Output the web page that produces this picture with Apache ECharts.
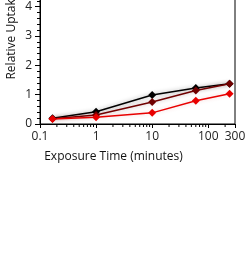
<!DOCTYPE html>
<html>
<head>
<meta charset="utf-8">
<script src="https://cdn.jsdelivr.net/npm/echarts@6/dist/echarts.min.js"></script>
<style>
html, body { margin: 0; padding: 0; background: #fff; }
#chart { width: 245px; height: 255px; }
</style>
</head>
<body>
<div id="chart"></div>
<script>
// exposure times (minutes)
var times = [0.167, 1, 10, 60, 240];
// relative uptake per state
var uptakeBlack = [0.20, 0.42, 0.99, 1.23, 1.37];
var uptakeDarkRed = [0.18, 0.31, 0.75, 1.14, 1.37];
var uptakeRed = [0.17, 0.23, 0.38, 0.79, 1.03];
// log axis minor ticks
var minorTimes = [0.2, 0.3, 0.4, 0.5, 0.6, 0.7, 0.8, 0.9, 2, 3, 4, 5, 6, 7, 8, 9, 20, 30, 40, 50, 60, 70, 80, 90, 200];

var font = 'Open Sans';

function pairs(ys) {
    return times.map(function (t, i) { return [t, ys[i]]; });
}

function lineSeries(name, color, ys, shadow) {
    return {
        name: name,
        type: 'line',
        data: pairs(ys),
        symbol: 'diamond',
        symbolSize: 8,
        color: color,
        lineStyle: {
            width: 1.5,
            color: color,
            shadowColor: shadow,
            shadowBlur: 4
        },
        itemStyle: { color: color },
        silent: true
    };
}

var myChart = echarts.init(document.getElementById('chart'));
var option = {
    animation: false,
    backgroundColor: '#fff',
    grid: {
        left: 40,
        right: 10,
        top: -52,
        bottom: 131,
        outerBoundsMode: 'none',
        containLabel: false,
        show: true,
        borderColor: '#000',
        borderWidth: 1,
        backgroundColor: '#fff'
    },
    xAxis: {
        type: 'log',
        logBase: 10,
        min: 0.1,
        max: 300,
        name: 'Exposure Time (minutes)',
        nameLocation: 'middle',
        nameGap: 27,
        nameTextStyle: { fontFamily: font, fontSize: 12, color: '#111', padding: [0, 48, 0, 0] },
        axisLine: { lineStyle: { color: '#000', width: 1 } },
        axisTick: { length: 4, lineStyle: { color: '#000' } },
        axisLabel: { fontFamily: font, fontSize: 12, color: '#222', margin: 7 },
        splitLine: { show: false }
    },
    yAxis: {
        type: 'value',
        min: 0,
        max: 6,
        interval: 1,
        name: 'Relative Uptake',
        nameLocation: 'middle',
        nameMoveOverlap: false,
        nameGap: 22,
        nameTextStyle: { fontFamily: font, fontSize: 12, color: '#111' },
        axisLine: { show: true, lineStyle: { color: '#000', width: 1 } },
        axisTick: { show: true, length: 5, lineStyle: { color: '#000' } },
        minorTick: { show: true, splitNumber: 5, length: 3, lineStyle: { color: '#000' } },
        axisLabel: { fontFamily: font, fontSize: 12, color: '#222', margin: 8 },
        splitLine: { show: false }
    },
    series: [
        {
            type: 'custom',
            silent: true,
            clip: false,
            data: minorTimes.map(function (t) { return [t, 0]; }),
            renderItem: function (params, api) {
                var p = api.coord([api.value(0), 0]);
                return {
                    type: 'line',
                    shape: { x1: p[0], y1: p[1], x2: p[0], y2: p[1] + 3 },
                    style: { stroke: '#000', lineWidth: 1 }
                };
            }
        },
        lineSeries('Black', '#000000', uptakeBlack, 'rgba(0,0,0,0.35)'),
        lineSeries('Dark red', '#700000', uptakeDarkRed, 'rgba(60,0,0,0.3)'),
        lineSeries('Red', '#e80000', uptakeRed, 'rgba(200,0,0,0.2)')
    ]
};
myChart.setOption(option);
window.addEventListener('resize', function () {
    myChart.resize();
});
</script>
</body>
</html>
